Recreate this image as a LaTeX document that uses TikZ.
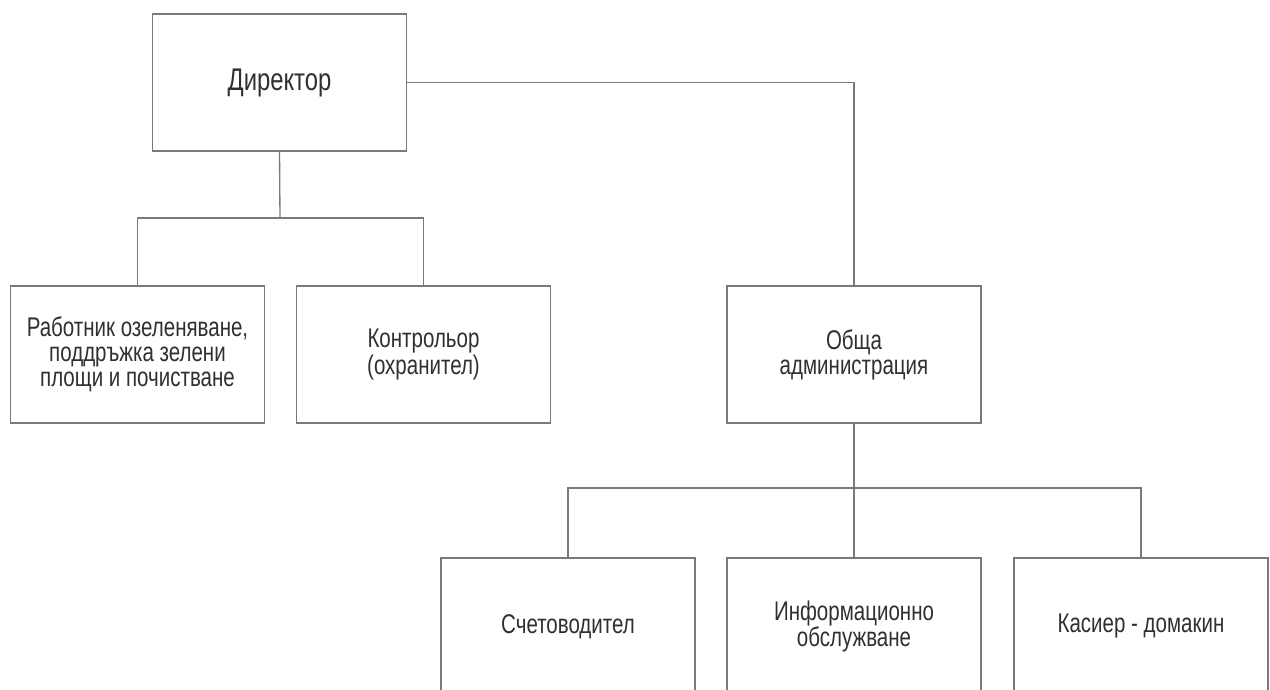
\documentclass[tikz,border=0pt]{standalone}
\usepackage{fontspec}
\setmainfont{Liberation Sans}[FakeStretch=0.76]

\begin{document}
\begin{tikzpicture}[x=0.75pt, y=-0.75pt]
	\definecolor{lineGray}{HTML}{7A7A7A}
	\definecolor{textGray}{HTML}{303030}
	\tikzstyle{unitStyle}=[shape = rectangle, draw = lineGray, line width = 1pt, minimum width = 190.5pt, minimum height = 102.75pt, inner sep = 2pt, align = center, text = textGray, font = \fontsize{20.25}{18.75}\selectfont]
	\tikzstyle{linkStyle}=[draw = lineGray, line width = 1pt]
	\useasboundingbox (0,0) rectangle (1270,689);
	\clip (0,0) rectangle (1270,689);
	\node[unitStyle, font = \fontsize{23.5}{26}\selectfont] (dir) at (279.5, 82.5) {Директор};
	\node[unitStyle] (rab) at (137.5, 354.5) {Работник озеленяване,\\поддръжка зелени\\площи и почистване};
	\node[unitStyle] (kon) at (423.5, 354.5) {Контрольор\\(охранител)};
	\node[unitStyle] (adm) at (854, 354.5) {Обща\\администрация};
	\node[unitStyle] (sch) at (568, 626.5) {Счетоводител};
	\node[unitStyle] (inf) at (854, 626.5) {Информационно\\обслужване};
	\node[unitStyle] (kas) at (1141, 626.5) {Касиер - домакин};
	\coordinate (j1) at (280, 218);
	\coordinate (j2) at (854, 488);
	\draw[linkStyle] (dir.south) -- (j1);
	\draw[linkStyle] (rab.north) |- (j1) -| (kon.north);
	\draw[linkStyle] (dir.east) -| (adm.north);
	\draw[linkStyle] (adm.south) -- (j2);
	\draw[linkStyle] (sch.north) |- (j2) -| (kas.north);
	\draw[linkStyle] (j2) -- (inf.north);
\end{tikzpicture}
\end{document}
